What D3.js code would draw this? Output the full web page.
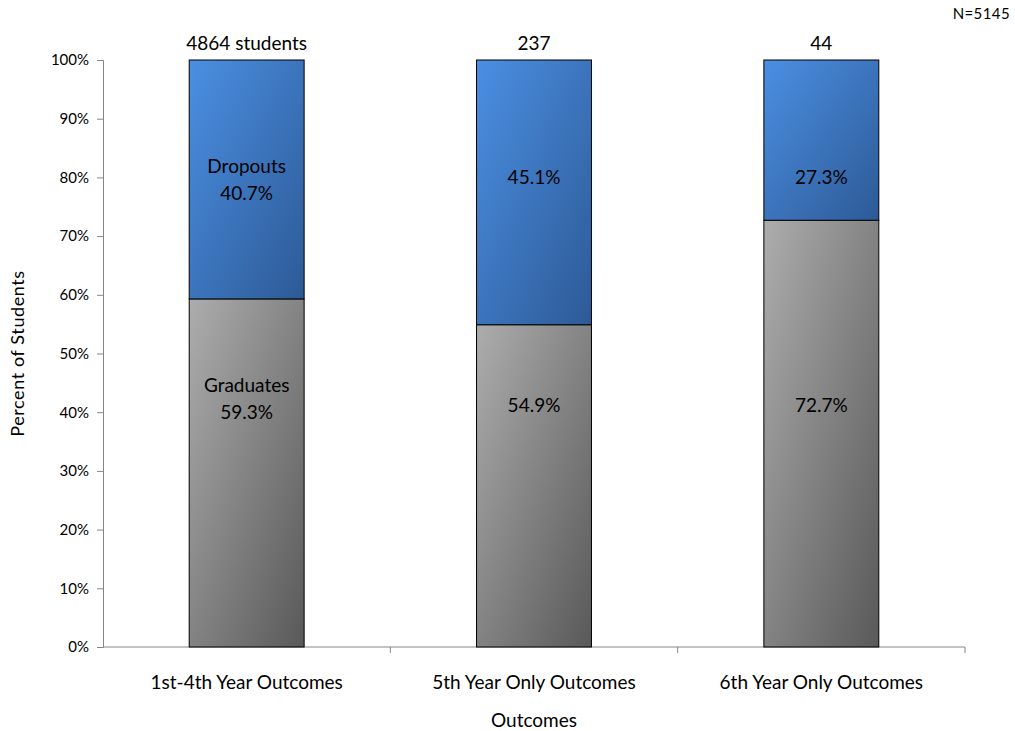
<!DOCTYPE html>
<html>
<head>
<meta charset="utf-8">
<script src="https://cdn.jsdelivr.net/npm/d3@7"></script>
<style>
  body { margin: 0; background: #fff; }
  svg text { font-family: Lato, "Open Sans", sans-serif; fill: #000; }
</style>
</head>
<body>
<svg id="chart" width="1015" height="731"></svg>
<script>
// Outcome groups and share of students in each
const categories = ["1st-4th Year Outcomes", "5th Year Only Outcomes", "6th Year Only Outcomes"];
const graduates = [59.3, 54.9, 72.7];
const dropouts  = [40.7, 45.1, 27.3];
const totals    = ["4864 students", "237", "44"];
const yTicks    = [0, 10, 20, 30, 40, 50, 60, 70, 80, 90, 100];
const totalN    = "N=5145";

const svg = d3.select("#chart");
const margin = { left: 103, right: 50, top: 60, bottom: 84 };
const W = 1015, H = 731;
const FS = "19px";

const x = d3.scaleBand().domain(categories)
  .range([margin.left, W - margin.right]).paddingInner(0.6).paddingOuter(0.3);
const xOuter = d3.scaleBand().domain(categories)
  .range([margin.left, W - margin.right]);
const y = d3.scaleLinear().domain([0, 100]).range([H - margin.bottom, margin.top]);

// diagonal gradients
const defs = svg.append("defs");
function grad(id, c0, c1) {
  const g = defs.append("linearGradient").attr("id", id)
    .attr("x1", 0).attr("y1", 0).attr("x2", 1).attr("y2", 1);
  g.append("stop").attr("offset", "0%").attr("stop-color", c0);
  g.append("stop").attr("offset", "100%").attr("stop-color", c1);
}
grad("gBlue", "#4b8fe2", "#2d5a96");
grad("gGrey", "#adadad", "#595959");

// y axis
const yAxis = svg.append("g").attr("transform", `translate(${margin.left},0)`)
  .call(d3.axisLeft(y).tickValues(yTicks).tickFormat(d => d + "%").tickSize(6).tickPadding(8));
yAxis.select(".domain").attr("stroke", "#868686");
yAxis.selectAll(".tick line").attr("stroke", "#868686");
yAxis.selectAll(".tick text").style("font-size", "15px").style("font-family", "Lato, 'Open Sans', sans-serif").attr("fill", "#000");

// x axis with ticks at band boundaries
const x0 = y(0);
svg.append("line").attr("x1", margin.left).attr("x2", W - margin.right)
  .attr("y1", x0).attr("y2", x0).attr("stroke", "#868686");
const bounds = categories.map(c => xOuter(c) + xOuter.bandwidth());
svg.selectAll(".xtick").data(bounds).enter().append("line")
  .attr("x1", d => d).attr("x2", d => d).attr("y1", x0).attr("y2", x0 + 6)
  .attr("stroke", "#868686");
svg.selectAll(".xlab").data(categories).enter().append("text")
  .attr("x", d => x(d) + x.bandwidth() / 2).attr("y", x0 + 42)
  .attr("text-anchor", "middle").style("font-size", FS).text(d => d);

// bars
const bw = x.bandwidth();
svg.selectAll(".grad").data(categories).enter().append("rect")
  .attr("x", d => x(d)).attr("width", bw)
  .attr("y", (d, i) => y(graduates[i])).attr("height", (d, i) => y(0) - y(graduates[i]))
  .attr("fill", "url(#gGrey)").attr("stroke", "#000").attr("stroke-width", 1);
svg.selectAll(".drop").data(categories).enter().append("rect")
  .attr("x", d => x(d)).attr("width", bw)
  .attr("y", (d, i) => y(graduates[i] + dropouts[i])).attr("height", (d, i) => y(graduates[i]) - y(graduates[i] + dropouts[i]))
  .attr("fill", "url(#gBlue)").attr("stroke", "#000").attr("stroke-width", 1);

// segment labels
const cx = i => x(categories[i]) + bw / 2;
const fmt = v => v.toFixed(1) + "%";
function label(i, v, t) {
  svg.append("text").attr("x", cx(i)).attr("y", y(v) + 7)
    .attr("text-anchor", "middle").style("font-size", FS).text(t);
}
categories.forEach((c, i) => {
  if (i === 0) {
    label(i, 82, "Dropouts");
    label(i, 77.3, fmt(dropouts[i]));
    label(i, 44.6, "Graduates");
    label(i, 40, fmt(graduates[i]));
  } else {
    label(i, 80, fmt(dropouts[i]));
    label(i, 41.3, fmt(graduates[i]));
  }
  svg.append("text").attr("x", cx(i)).attr("y", y(100) - 10)
    .attr("text-anchor", "middle").style("font-size", FS).text(totals[i]);
});

// titles
svg.append("text").attr("x", (margin.left + W - margin.right) / 2).attr("y", 727)
  .attr("text-anchor", "middle").style("font-size", FS).text("Outcomes");
svg.append("text").attr("transform", `translate(24,${(y(0) + y(100)) / 2}) rotate(-90)`)
  .attr("text-anchor", "middle").style("font-size", "18px").style("letter-spacing", "0.6px")
  .text("Percent of Students");
svg.append("text").attr("x", 1010).attr("y", 19).attr("text-anchor", "end")
  .style("font-size", "15px").style("letter-spacing", "0.4px").text(totalN);
</script>
</body>
</html>
